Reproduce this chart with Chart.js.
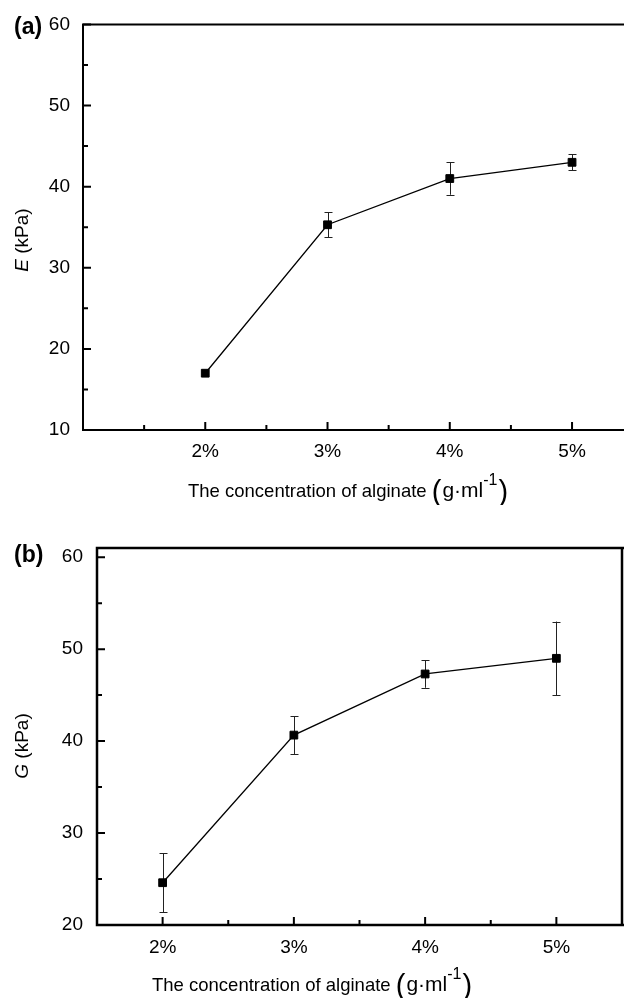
<!DOCTYPE html>
<html>
<head>
<meta charset="utf-8">
<script src="https://cdn.jsdelivr.net/npm/chart.js@4.4.1/dist/chart.umd.min.js"></script>
<style>
  html, body { margin: 0; padding: 0; background: #fff; }
  #wrap { position: relative; width: 624px; height: 998px; overflow: hidden; }
  #chartA { position: absolute; left: 0; top: 0; }
  #chartB { position: absolute; left: 0; top: 505px; }
</style>
</head>
<body>
<div id="wrap">
  <canvas id="chartA" width="624" height="505"></canvas>
  <canvas id="chartB" width="624" height="493"></canvas>
</div>
<script>
// Data
const categories = ['2%', '3%', '4%', '5%'];
const concentration = [2, 3, 4, 5];
const eValues = [17.0, 35.3, 41.0, 43.0];   // E (kPa)
const eErrors = [0, 1.55, 2.0, 1.0];
const gValues = [24.6, 40.65, 47.3, 49.0];  // G (kPa)
const gErrors = [3.2, 2.05, 1.5, 4.0];
const eTicks = [10, 20, 30, 40, 50, 60];
const gTicks = [20, 30, 40, 50, 60];

const FONT = "'Liberation Sans', Arial, sans-serif";
Chart.defaults.font.family = FONT;
Chart.defaults.color = '#000';

// error bars, drawn under the markers
const errorBars = {
    id: 'errorBars',
    beforeDatasetsDraw(chart, args, opts) {
        const ctx = chart.ctx;
        const y = chart.scales.y;
        const meta = chart.getDatasetMeta(0);
        const vals = chart.data.datasets[0].data;
        ctx.save();
        ctx.strokeStyle = '#222';
        ctx.lineWidth = 1;
        meta.data.forEach((pt, i) => {
            const err = opts.errors[i];
            if (!err) return;
            const x = Math.round(pt.x) + 0.5;
            const top = y.getPixelForValue(vals[i].y + err);
            const bot = y.getPixelForValue(vals[i].y - err);
            ctx.beginPath();
            ctx.moveTo(x, top); ctx.lineTo(x, bot);
            ctx.moveTo(x - 4, Math.round(top) + 0.5); ctx.lineTo(x + 4, Math.round(top) + 0.5);
            ctx.moveTo(x - 4, Math.round(bot) + 0.5); ctx.lineTo(x + 4, Math.round(bot) + 0.5);
            ctx.stroke();
        });
        ctx.restore();
    }
};

// axis frame, inward ticks, titles and panel letter
const frame = {
    id: 'frame',
    afterDraw(chart, args, opts) {
        const ctx = chart.ctx;
        const a = chart.chartArea;
        const x = chart.scales.x, y = chart.scales.y;
        ctx.save();
        ctx.strokeStyle = '#000';
        ctx.lineWidth = opts.axisWidth;
        ctx.beginPath();
        ctx.moveTo(a.right + 2, a.top);
        ctx.lineTo(a.left, a.top);
        ctx.lineTo(a.left, a.bottom);
        ctx.lineTo(a.right + 2, a.bottom);
        if (opts.rightBorder) {
            ctx.moveTo(a.right, a.top - 1);
            ctx.lineTo(a.right, a.bottom + 1);
        }
        ctx.stroke();

        ctx.lineWidth = 2;
        ctx.beginPath();
        opts.yMajor.forEach(v => {
            const p = y.getPixelForValue(v);
            ctx.moveTo(a.left, p); ctx.lineTo(a.left + 8, p);
        });
        opts.yMinor.forEach(v => {
            const p = y.getPixelForValue(v);
            ctx.moveTo(a.left, p); ctx.lineTo(a.left + 5, p);
        });
        opts.xMajor.forEach(v => {
            const p = x.getPixelForValue(v);
            ctx.moveTo(p, a.bottom); ctx.lineTo(p, a.bottom - 8);
        });
        opts.xMinor.forEach(v => {
            const p = x.getPixelForValue(v);
            ctx.moveTo(p, a.bottom); ctx.lineTo(p, a.bottom - 5);
        });
        ctx.stroke();

        ctx.fillStyle = '#000';
        // panel letter
        ctx.font = 'bold 23px ' + FONT;
        ctx.textBaseline = 'middle';
        ctx.textAlign = 'left';
        ctx.fillText(opts.letter, 14, opts.letterY);

        // y title, rotated
        ctx.save();
        ctx.translate(23, opts.yTitleY);
        ctx.rotate(-Math.PI / 2);
        ctx.font = 'italic 19px ' + FONT;
        const w1 = ctx.measureText(opts.yVar).width;
        ctx.font = '19px ' + FONT;
        const w2 = ctx.measureText(' (kPa)').width;
        let cx = -(w1 + w2) / 2;
        ctx.font = 'italic 19px ' + FONT;
        ctx.fillText(opts.yVar, cx, 0);
        ctx.font = '19px ' + FONT;
        ctx.fillText(' (kPa)', cx + w1, 0);
        ctx.restore();

        // x title with unit and superscript
        ctx.textBaseline = 'alphabetic';
        let tx = opts.xTitleX;
        const base = opts.xTitleBase;
        ctx.font = '18.5px ' + FONT;
        const main = 'The concentration of alginate ';
        ctx.fillText(main, tx, base);
        tx += ctx.measureText(main).width;
        ctx.font = '29px ' + FONT;
        ctx.fillText('(', tx, base + 4);
        tx += ctx.measureText('(').width + 1;
        ctx.font = '21px ' + FONT;
        ctx.fillText('g·ml', tx, base);
        tx += ctx.measureText('g·ml').width;
        ctx.font = '16px ' + FONT;
        ctx.fillText('-1', tx, base - 12);
        tx += ctx.measureText('-1').width + 1;
        ctx.font = '29px ' + FONT;
        ctx.fillText(')', tx, base + 4);
        ctx.restore();
    }
};

function toPoints(values) {
    return concentration.map((c, i) => ({ x: c, y: values[i] }));
}

function makeChart(canvasId, values, errors, cfg) {
    const ctx = document.getElementById(canvasId).getContext('2d');
    return new Chart(ctx, {
        type: 'line',
        data: {
            datasets: [{
                data: toPoints(values),
                borderColor: '#000',
                borderWidth: 1.3,
                backgroundColor: '#000',
                pointStyle: 'rect',
                pointRadius: 5.5,
                pointBorderWidth: 1,
                pointBorderColor: '#000',
                pointBackgroundColor: '#000',
                tension: 0
            }]
        },
        options: {
            responsive: false,
            animation: false,
            events: [],
            layout: {
                autoPadding: false,
                padding: { top: cfg.top, left: 0, right: cfg.rightPad, bottom: 0 }
            },
            plugins: {
                legend: { display: false },
                tooltip: { enabled: false },
                errorBars: { errors: errors },
                frame: cfg.frame
            },
            scales: {
                x: {
                    type: 'linear',
                    min: cfg.xMin,
                    max: cfg.xMax,
                    grid: { display: false, drawTicks: false },
                    border: { display: false },
                    afterBuildTicks: s => { s.ticks = concentration.map(v => ({ value: v })); },
                    afterFit: s => { s.height = cfg.xHeight; },
                    ticks: {
                        padding: cfg.xPad,
                        font: { size: 19 },
                        color: '#000',
                        maxRotation: 0,
                        callback: v => categories[concentration.indexOf(v)]
                    }
                },
                y: {
                    min: cfg.yMin,
                    max: cfg.yMax,
                    grid: { display: false, drawTicks: false },
                    border: { display: false },
                    afterBuildTicks: s => { s.ticks = cfg.yTicks.map(v => ({ value: v })); },
                    afterFit: s => { s.width = cfg.yWidth; },
                    ticks: {
                        padding: cfg.yPad,
                        font: { size: 19 },
                        color: '#000'
                    }
                }
            }
        },
        plugins: [errorBars, frame]
    });
}

// (a) Young's modulus
makeChart('chartA', eValues, eErrors, {
    top: 21, rightPad: 0, xMin: 1, xMax: 5.425, yMin: 10, yMax: 60,
    xHeight: 75, yWidth: 83, xPad: 10, yPad: 13, yTicks: eTicks,
    frame: {
        axisWidth: 2, rightBorder: false,
        yMajor: eTicks, yMinor: [15, 25, 35, 45, 55],
        xMajor: concentration, xMinor: [1.5, 2.5, 3.5, 4.5],
        letter: '(a)', letterY: 28, yVar: 'E', yTitleY: 240,
        xTitleX: 188, xTitleBase: 497
    }
});

// (b) shear modulus
makeChart('chartB', gValues, gErrors, {
    top: 43, rightPad: 2, xMin: 1.5, xMax: 5.5, yMin: 20, yMax: 61,
    xHeight: 73, yWidth: 97, xPad: 11, yPad: 14, yTicks: gTicks,
    frame: {
        axisWidth: 2.5, rightBorder: true,
        yMajor: gTicks, yMinor: [25, 35, 45, 55],
        xMajor: concentration, xMinor: [2.5, 3.5, 4.5],
        letter: '(b)', letterY: 51, yVar: 'G', yTitleY: 241,
        xTitleX: 152, xTitleBase: 486
    }
});
</script>
</body>
</html>
